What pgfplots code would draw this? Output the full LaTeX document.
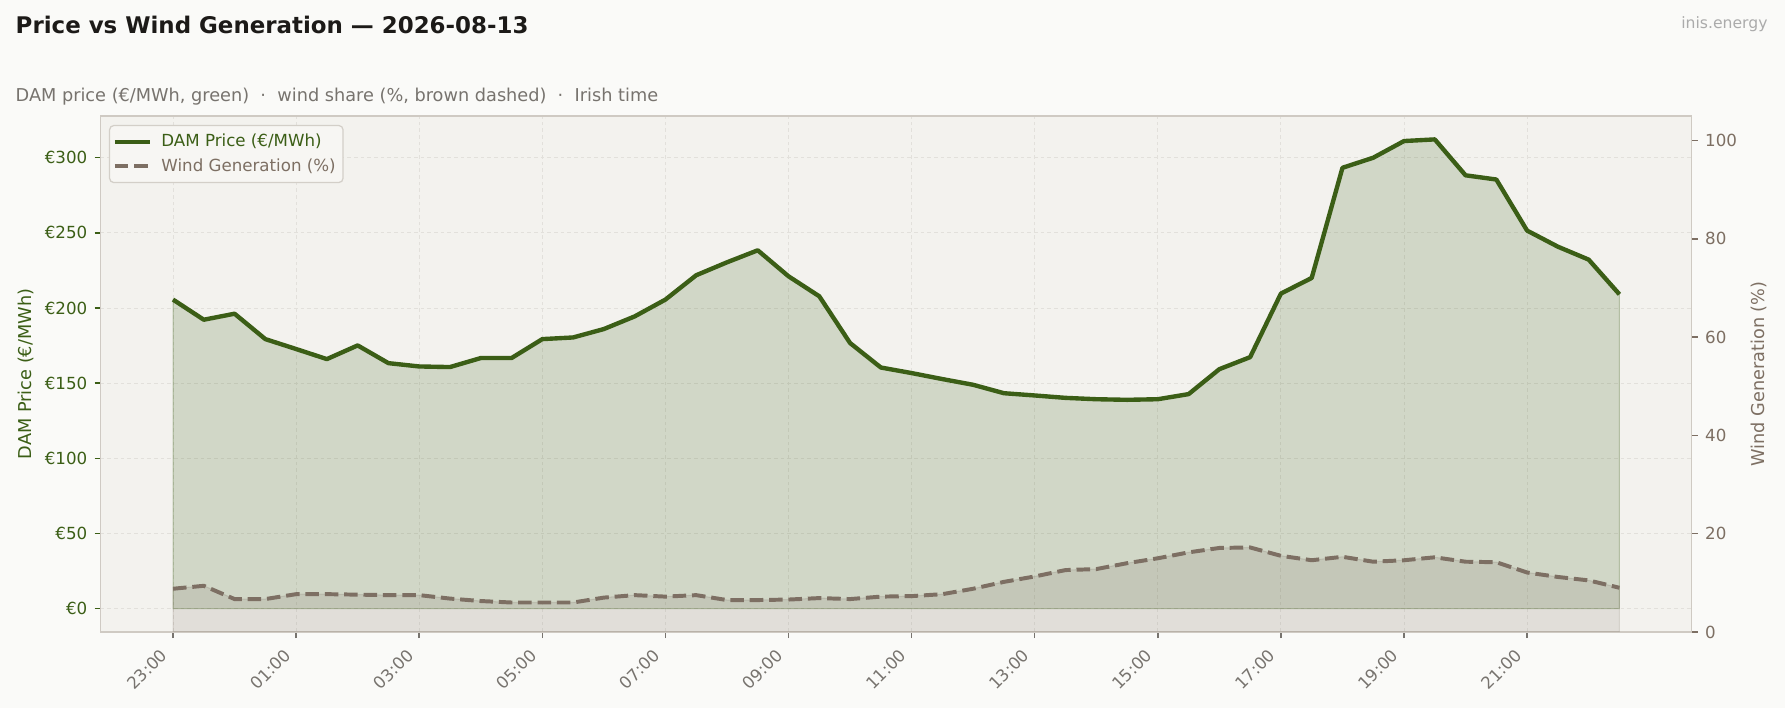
\documentclass[border=0pt]{standalone}
\usepackage{fontspec}
\setmainfont{DejaVu Sans}
\usepackage{pgfplots}
\usepackage{pgfplotstable}
\pgfplotsset{compat=1.18}

\definecolor{figbg}{HTML}{FAFAF8}
\definecolor{axbg}{HTML}{F3F2EE}
\definecolor{pricegreen}{HTML}{3B5E16}
\definecolor{windbrown}{HTML}{7D6F63}
\definecolor{framec}{HTML}{CFCAC3}
\definecolor{gridc}{HTML}{E2E0DB}
\definecolor{titlec}{HTML}{1C1A18}
\definecolor{subc}{HTML}{77736E}
\definecolor{markc}{HTML}{ABABAB}
\definecolor{legbg}{HTML}{F7F6F3}
\definecolor{legframe}{HTML}{D3CFC8}

% half-hourly, index 0 = 23:00
\pgfplotstableread{
i  price wind
0  205.6 8.8
1  192.2 9.4
2  196.2 6.7
3  179.3 6.7
4  172.7 7.7
5  166.0 7.7
6  175.1 7.6
7  163.3 7.5
8  161.1 7.5
9  160.7 6.8
10 166.7 6.3
11 166.7 6.0
12 179.3 6.0
13 180.4 6.0
14 186.0 7.0
15 194.4 7.5
16 205.6 7.2
17 221.8 7.5
18 230.4 6.5
19 238.4 6.5
20 221.1 6.6
21 207.8 6.9
22 176.7 6.7
23 160.4 7.2
24 156.7 7.3
25 152.7 7.7
26 148.9 8.8
27 143.3 10.2
28 141.8 11.3
29 140.2 12.6
30 139.3 12.8
31 138.9 14.0
32 139.3 15.0
33 142.7 16.2
34 159.3 17.1
35 167.3 17.2
36 209.6 15.5
37 220.0 14.6
38 293.3 15.3
39 300.0 14.3
40 311.1 14.6
41 312.2 15.2
42 288.3 14.3
43 285.5 14.2
44 251.5 12.1
45 240.8 11.2
46 232.2 10.5
47 209.1 9.0
}\data

\newcommand{\fs}[1]{\fontsize{#1}{1.2\dimexpr#1pt\relax}\selectfont}

\pgfplotsset{
  base/.style={
    at={(48.34pt,36.48pt)}, anchor=south west,
    scale only axis, width=763.7pt, height=247.7pt,
    xmin=-2.35, xmax=49.35,
    tick align=outside, major tick length=2.9pt,
  },
}

\begin{document}
\begin{tikzpicture}
\fill[figbg] (0,0) rectangle (856.8pt,339.84pt);
\node[anchor=base west, inner sep=0pt, text=titlec, font=\fs{11}\bfseries] at (7.34pt,323.9pt) {Price vs Wind Generation — 2026-08-13};
\node[anchor=base west, inner sep=0pt, text=subc, font=\fs{8.5}] at (7.34pt,291.0pt) {DAM price (€/MWh, green)~~·~~wind share (\%, brown dashed)~~·~~Irish time};
\node[anchor=base east, inner sep=0pt, text=markc, font=\fs{7.5}] at (848.6pt,326.3pt) {inis.energy};

\begin{axis}[base,
  ymin=-15.6, ymax=327.8,
  axis background/.style={fill=axbg},
  axis line style={draw=framec, line width=0.7pt},
  xtick pos=bottom, ytick pos=left,
  xtick={0,4,...,44},
  xticklabels={23:00,01:00,03:00,05:00,07:00,09:00,11:00,13:00,15:00,17:00,19:00,21:00},
  x tick label style={xshift=-6.4pt, yshift=-4.5pt, rotate=45, anchor=north east, inner sep=0pt, text=subc, font=\fs{8}},
  x tick style={draw=subc, line width=0.7pt},
  ytick={0,50,...,300},
  yticklabels={€0,€50,€100,€150,€200,€250,€300},
  y tick label style={text=pricegreen, font=\fs{8}},
  y tick style={draw=pricegreen, line width=0.7pt},
  grid=major,
  major grid style={draw=gridc, line width=0.45pt, dash pattern=on 1.8pt off 1.4pt},
  ylabel={DAM Price (€/MWh)},
  every axis y label/.style={at={(axis description cs:-0.047,0.5)}, rotate=90, anchor=center, text=pricegreen, font=\fs{8.5}},
]
\addplot[draw=pricegreen, draw opacity=0.3, line width=0.5pt, fill=pricegreen, fill opacity=0.18, forget plot]
  table[x=i, y=price] {\data} \closedcycle;
\addplot[pricegreen, line width=2.1pt, line join=round] table[x=i, y=price] {\data};
\end{axis}

\begin{axis}[base,
  ymin=0, ymax=105,
  hide x axis,
  axis y line*=right,
  axis line style={draw=framec, line width=0.7pt},
  ytick={0,20,...,100},
  yticklabels={0,20,40,60,80,100},
  y tick label style={text=windbrown, font=\fs{8}},
  y tick style={draw=windbrown, line width=0.7pt},
  ylabel={Wind Generation (\%)},
  every axis y label/.style={at={(axis description cs:1.042,0.5)}, rotate=90, anchor=center, text=windbrown, font=\fs{8.5}},
  legend cell align=left,
  legend style={at={(0.0052,0.9826)}, anchor=north west, draw=legframe, fill=legbg,
    rounded corners=2pt, line width=0.6pt, font=\fs{8},
    inner xsep=1.5pt, inner ysep=2pt, row sep=0.2pt, column sep=2.2pt},
]
\addlegendimage{pricegreen, line width=2.1pt}
\addlegendentry{\textcolor{pricegreen}{DAM Price (€/MWh)}}
\addplot[draw=windbrown, draw opacity=0.2, line width=0.5pt, fill=windbrown, fill opacity=0.15, forget plot]
  table[x=i, y=wind] {\data} \closedcycle;
\addplot[windbrown, line width=1.9pt, dash pattern=on 6.5pt off 2.8pt] table[x=i, y=wind] {\data};
\addlegendentry{\textcolor{windbrown}{Wind Generation (\%)}}
\end{axis}
\pgfresetboundingbox
\useasboundingbox (0,0) rectangle (856.8pt,339.84pt);
\end{tikzpicture}
\end{document}
